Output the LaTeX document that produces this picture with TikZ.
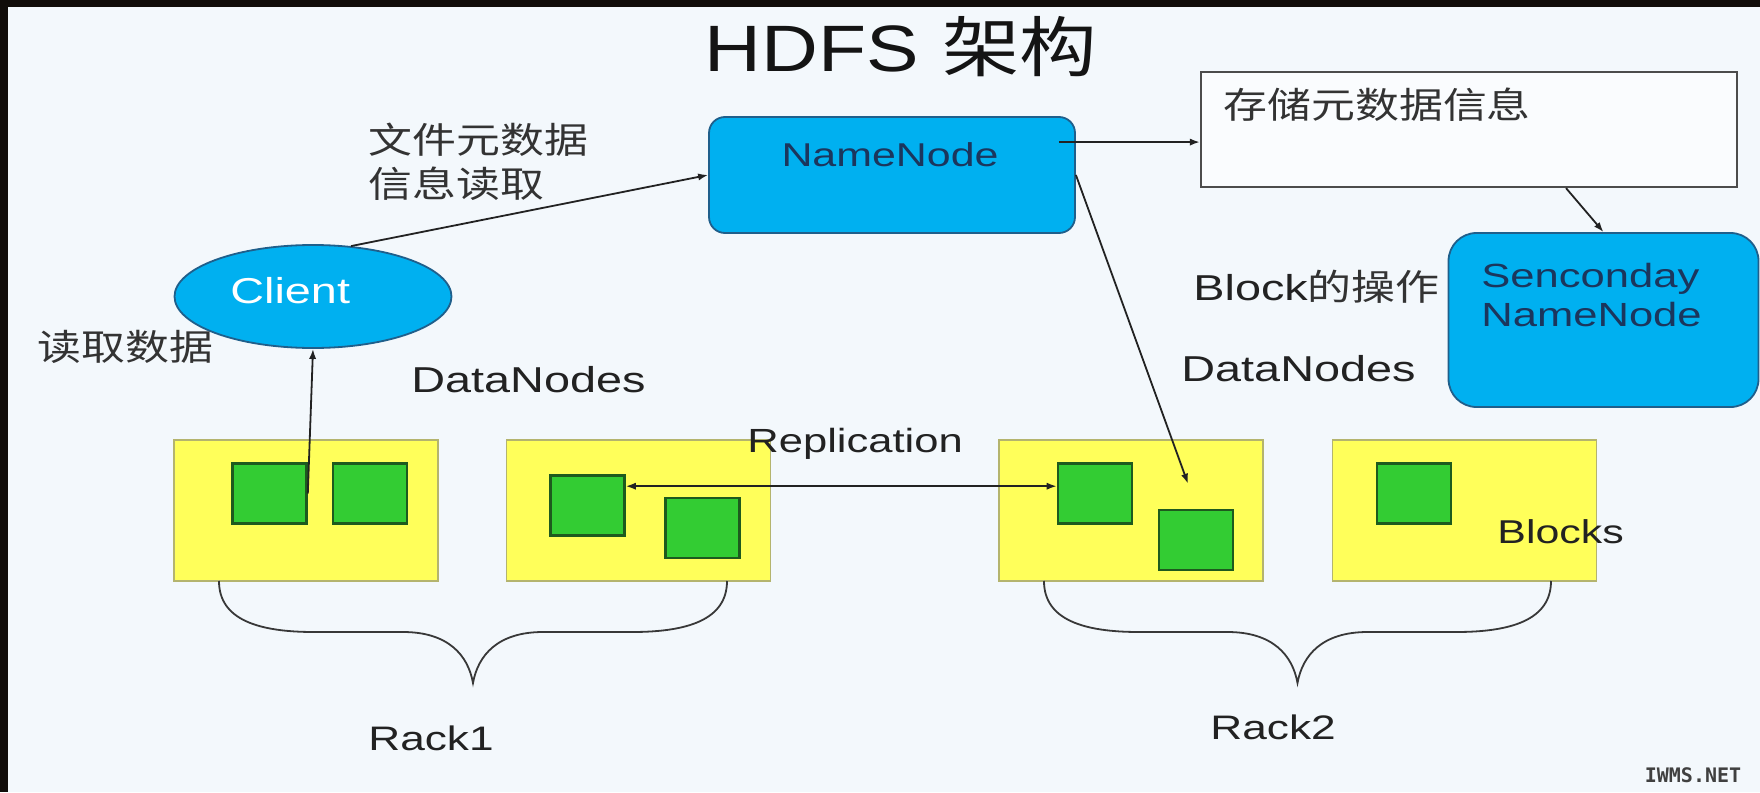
\documentclass[tikz,border=0pt]{standalone}
\usepackage{fontspec}
\setmainfont{Liberation Sans}[FakeStretch=1.3]
\newfontfamily\titlefont{Liberation Sans}[FakeStretch=1.2]
\newfontfamily\cjk{Noto Sans CJK SC}[FakeStretch=1.22]
\newfontfamily\cjktitle{Noto Sans CJK SC}[FakeStretch=1.18]
\newfontfamily\markfont{DejaVu Sans Mono}
\usetikzlibrary{arrows.meta,shapes.geometric,calc}

\newlength{\upx}\setlength{\upx}{0.5pt}

\definecolor{pagebg}{HTML}{F3F8FC}
\definecolor{framedark}{HTML}{110D0A}
\definecolor{nodeblue}{HTML}{00B0F0}
\definecolor{nodeedge}{HTML}{1F5F8B}
\definecolor{navy}{HTML}{1B365D}
\definecolor{dnyellow}{HTML}{FFFF5A}
\definecolor{dnedge}{HTML}{B4B46E}
\definecolor{blkgreen}{HTML}{33CC33}
\definecolor{blkedge}{HTML}{1E5A1E}
\definecolor{ink}{HTML}{222222}
\definecolor{cjkink}{HTML}{333333}

\newcommand{\fs}[2]{\fontsize{#1}{#2}\selectfont}

\begin{document}
\begin{tikzpicture}[
  x=0.5pt, y=-0.5pt,
  >={Latex[length=5pt,width=3.6pt]},
  txt/.style={inner sep=0pt, anchor=base west, text=ink},
  arr/.style={draw=ink, line width=0.9pt, ->},
  bluebox/.style={draw=nodeedge, line width=0.9pt, fill=nodeblue},
  dnbox/.style={draw=dnedge, line width=0.7pt, fill=dnyellow,
    minimum width=264\upx, minimum height=141\upx, inner sep=0pt},
  blkbox/.style={draw=blkedge, line width=1.3pt, fill=blkgreen,
    minimum width=74\upx, minimum height=60\upx, inner sep=0pt},
  rackbrace/.style={draw=ink!90, line width=0.9pt},
]
% page and dark frame
\fill[pagebg] (0,0) rectangle (1760,792);
\fill[framedark] (0,0) rectangle (1760,7);
\fill[framedark] (0,0) rectangle (8,792);
\useasboundingbox (0,0) rectangle (1760,792);

% title
\node[txt, text=black!92] (title) at (704,72)
  {\fs{32.8pt}{36pt}{\titlefont HDFS} {\cjktitle 架构}};

% metadata nodes
\node[bluebox, rounded corners=8pt, minimum width=366\upx,
  minimum height=116\upx, inner sep=0pt] (nn) at (892,175) {};
\node[inner sep=0pt, anchor=base, text=navy] (nnlabel) at ($(nn.north)+(-2,50)$)
  {\fs{16.5pt}{19.5pt}NameNode};

\node[draw=black!70, line width=1.1pt, fill=white!60!pagebg,
  minimum width=536\upx, minimum height=115\upx, inner sep=0pt] (st) at (1469,129.5) {};
\node[txt, text=cjkink] (stlabel) at (1223,119) {\fs{18pt}{21pt}\cjk 存储元数据信息};

\node[bluebox, rounded corners=14pt, minimum width=310\upx,
  minimum height=174\upx, inner sep=0pt] (sn) at (1603.5,320) {};
\node[inner sep=0pt, anchor=north west, align=left, text=navy,
  font=\fs{16.75pt}{19.5pt}] (snlabel) at (1481,263) {Senconday\\NameNode};

% client
\node[ellipse, bluebox, minimum width=277\upx, minimum height=103\upx,
  inner sep=0pt] (client) at (313,296.5) {};
\node[txt, text=white] (clientlabel) at (230,303) {\fs{18pt}{21pt}Client};

% free labels
\node[txt, text=cjkink] (meta1) at (368,154) {\fs{18pt}{21pt}\cjk 文件元数据};
\node[txt, text=cjkink] (meta2) at (368,197) {\fs{18pt}{21pt}\cjk 信息读取};
\node[txt, text=cjkink] (readlbl) at (37,360) {\fs{18pt}{21pt}\cjk 读取数据};
\node[txt] (blockop) at (1193,300) {\fs{18pt}{21pt}Block{\color{cjkink}\cjk 的操作}};
\node[txt] (dnl) at (411,392) {\fs{18pt}{21pt}DataNodes};
\node[txt] (dnr) at (1181,381) {\fs{18pt}{21pt}DataNodes};

% data nodes and blocks
\node[dnbox] (dn1) at (306,510.5) {};
\node[dnbox] (dn2) at (638.5,510.5) {};
\node[dnbox] (dn3) at (1131,510.5) {};
\node[dnbox] (dn4) at (1464.5,510.5) {};

\node[blkbox] (b1) at (269.5,493.5) {};
\node[blkbox] (b2) at (370,493.5) {};
\node[blkbox] (b3) at (587.5,505.5) {};
\node[blkbox] (b4) at (702.5,528) {};
\node[blkbox] (b5) at (1095,493.5) {};
\node[blkbox] (b6) at (1196,540) {};
\node[blkbox] (b7) at (1414,493.5) {};

\node[txt] (replbl) at (747,452) {\fs{16.75pt}{20pt}Replication};
\node[txt] (blkslbl) at (1497,543) {\fs{16.5pt}{20pt}Blocks};

% connectors
\draw[arr] (client.53) -- (nn.west);
\coordinate (nnout) at ($(nn.north east)+(-17,26)$);
\draw[arr] (nnout) -- (nnout -| st.west);
\draw[arr] ($(st.south)+(97,0)$) -- (sn.north);
\coordinate (nnblk) at ($(b6.north)+(-8,-25)$);
\draw[arr] (nn.east) -- (nnblk);
\draw[arr] (b1.east) -- (client.south);
\coordinate (rep) at ($(b3.north east)+(0,12)$);
\draw[arr, <->] (rep) -- (rep -| b5.west);

% rack braces
\newcommand{\rackcurve}[3]{%
  \draw[rackbrace] (#1,581) .. controls (#1,620) and (#1+40,632) .. (#1+95,632)
    -- (#3-70,632) .. controls (#3-25,632) and (#3-5,655) .. (#3,683)
    .. controls (#3+5,655) and (#3+25,632) .. (#3+70,632)
    -- (#2-95,632) .. controls (#2-40,632) and (#2,620) .. (#2,581);}
\rackcurve{219}{727}{473}
\rackcurve{1044}{1551}{1297.5}

\node[txt] (rack1) at (368,750) {\fs{17pt}{20pt}Rack1};
\node[txt] (rack2) at (1210,739) {\fs{17pt}{20pt}Rack2};

% site mark
\node[inner sep=1pt, text=black!75, anchor=center] (mark) at (1693,775)
  {\markfont\bfseries\fs{10pt}{11pt}IWMS.NET};
\end{tikzpicture}
\end{document}
